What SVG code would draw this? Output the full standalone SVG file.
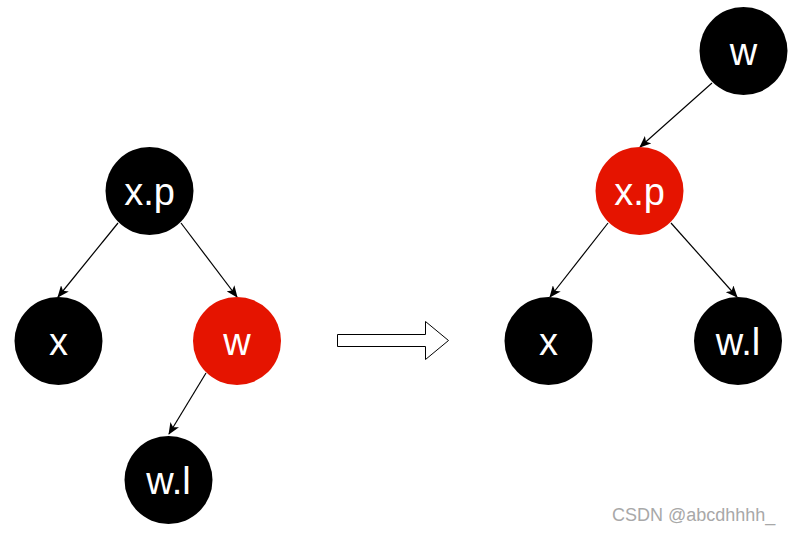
<svg xmlns="http://www.w3.org/2000/svg" width="796" height="533" viewBox="0 0 796 533">
<defs>
<style>
.blk{fill:#000000}
.red{fill:#E51400}
.lbl{fill:#ffffff;font-family:"Liberation Sans",Arial,sans-serif;font-size:38px;text-anchor:middle}
.edge{stroke:#000000;stroke-width:1.2;fill:none;marker-end:url(#ah)}
.wm{fill:#a8a8a8;font-family:"Liberation Sans",Arial,sans-serif;font-size:18px}
</style>
<marker id="ah" viewBox="0 0 12 10" refX="11" refY="5" markerWidth="12" markerHeight="10" markerUnits="userSpaceOnUse" orient="auto">
<path d="M0,0 L12,5 L0,10 L3,5 Z" fill="#000"/>
</marker>
</defs>
<rect width="796" height="533" fill="#ffffff"/>
<g id="connectors">
<line class="edge" x1="118" y1="223" x2="58" y2="297"/>
<line class="edge" x1="181" y1="223" x2="237" y2="297"/>
<line class="edge" x1="206" y1="373" x2="169" y2="434"/>
<line class="edge" x1="712" y1="83" x2="640" y2="147"/>
<line class="edge" x1="608" y1="223" x2="550" y2="297"/>
<line class="edge" x1="671" y1="223" x2="737" y2="297"/>
</g>
<g id="transform-arrow">
<path d="M337.5,334.5 L425.5,334.5 L425.5,321.5 L448.5,340.5 L425.5,359.5 L425.5,346.5 L337.5,346.5 Z" fill="#ffffff" stroke="#000000" stroke-width="1"/>
</g>
<g id="L-xp"><circle class="blk" cx="149.5" cy="191" r="44"/><text class="lbl" x="149.5" y="205">x.p</text></g>
<g id="L-x"><circle class="blk" cx="58.5" cy="341" r="44"/><text class="lbl" x="58.5" y="355">x</text></g>
<g id="L-w"><circle class="red" cx="237" cy="341" r="44"/><text class="lbl" x="237" y="355">w</text></g>
<g id="L-wl"><circle class="blk" cx="168.5" cy="480" r="44"/><text class="lbl" x="168.5" y="494">w.l</text></g>
<g id="R-w"><circle class="blk" cx="743.5" cy="51" r="44"/><text class="lbl" x="743.5" y="65">w</text></g>
<g id="R-xp"><circle class="red" cx="639.5" cy="191" r="44"/><text class="lbl" x="639.5" y="205">x.p</text></g>
<g id="R-x"><circle class="blk" cx="548.5" cy="341" r="44"/><text class="lbl" x="548.5" y="355">x</text></g>
<g id="R-wl"><circle class="blk" cx="738" cy="341" r="44"/><text class="lbl" x="738" y="355">w.l</text></g>
<text class="wm" x="612" y="521">CSDN @abcdhhhh_</text>
</svg>
